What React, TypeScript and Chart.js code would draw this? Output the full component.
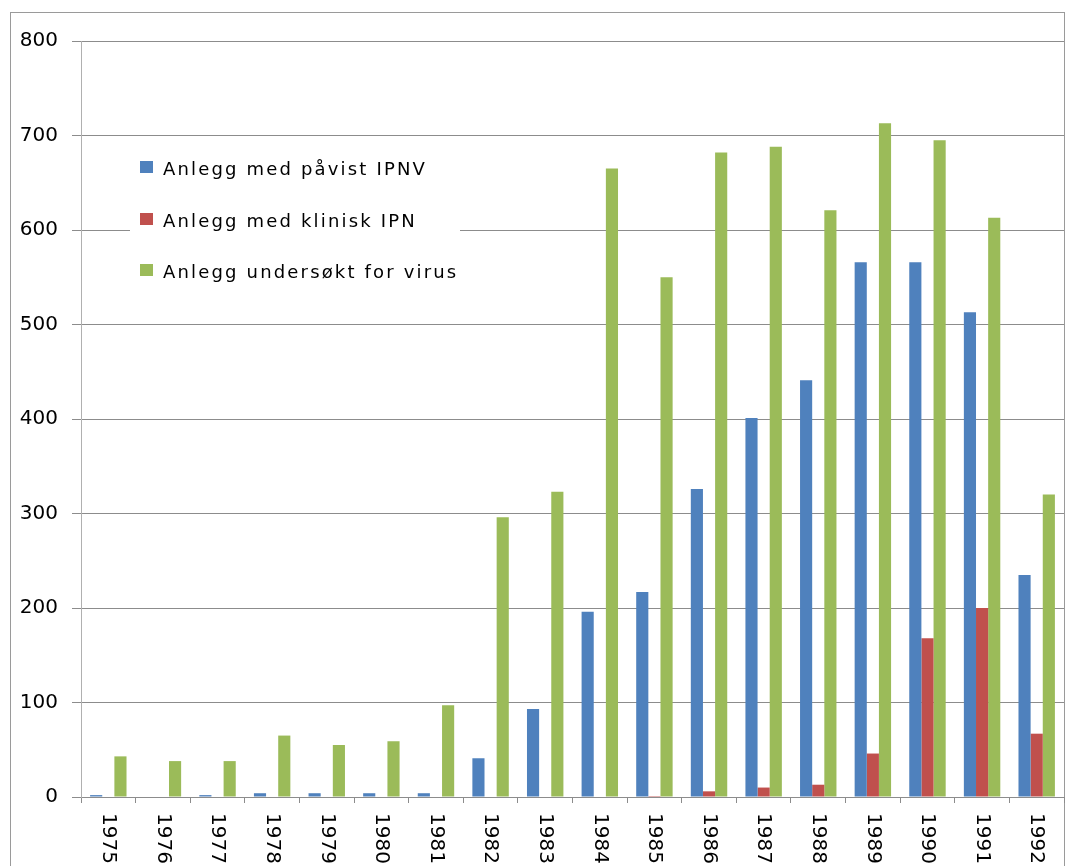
import React, { useEffect, useRef } from "react";
import { Chart, registerables } from "chart.js";

Chart.register(...registerables);

const years = ["1975","1976","1977","1978","1979","1980","1981","1982","1983","1984","1985","1986","1987","1988","1989","1990","1991","1992"];
const pavistIPNV = [2, 0, 2, 4, 4, 4, 4, 41, 93, 196, 217, 326, 401, 441, 566, 566, 513, 235];
const kliniskIPN = [0, 0, 0, 0, 0, 0, 0, 0, 0, 0, 1, 6, 10, 13, 46, 168, 200, 67];
const undersoktVirus = [43, 38, 38, 65, 55, 59, 97, 296, 323, 665, 550, 682, 688, 621, 713, 695, 613, 320];
const seriesNames = ["Anlegg med påvist IPNV", "Anlegg med klinisk IPN", "Anlegg undersøkt for virus"];
const yTicks = [0, 100, 200, 300, 400, 500, 600, 700, 800];

const FONT = '"DejaVu Sans", Verdana, sans-serif';
const GRID = "#8c8c8c";

const framePlugin = {
  id: "frame",
  beforeDraw(chart: any) {
    const ctx = chart.ctx;
    ctx.save();
    ctx.fillStyle = "#ffffff";
    ctx.fillRect(0, 0, chart.width, chart.height);
    ctx.strokeStyle = "#9a9a9a";
    ctx.lineWidth = 1;
    ctx.strokeRect(10.5, 12.5, 1054, 900);
    ctx.restore();
  },
};

const xLabelPlugin = {
  id: "xlabels",
  afterDraw(chart: any) {
    const ctx = chart.ctx;
    const xs = chart.scales.x;
    const top = chart.chartArea.bottom + 16;
    ctx.save();
    ctx.font = `20px ${FONT}`;
    ctx.fillStyle = "#000000";
    ctx.textAlign = "left";
    ctx.textBaseline = "middle";
    (chart.data.labels as string[]).forEach((lab, i) => {
      const x = xs.getPixelForValue(i);
      ctx.save();
      ctx.translate(x, top);
      ctx.rotate(Math.PI / 2);
      ctx.fillText(lab, 0, 0);
      ctx.restore();
    });
    ctx.restore();
  },
};

const legendPlugin = {
  id: "insideLegend",
  afterDraw(chart: any) {
    const ctx = chart.ctx;
    ctx.save();
    ctx.fillStyle = "#ffffff";
    ctx.fillRect(130, 142, 330, 156);
    ctx.font = `18px ${FONT}`;
    const refW = ctx.measureText(chart.data.datasets[0].label).width;
    const n = chart.data.datasets[0].label.length;
    const sp = Math.max(0, (264 - refW) / n);
    (ctx as any).letterSpacing = `${sp.toFixed(2)}px`;
    const rows = [167, 219, 270];
    chart.data.datasets.forEach((ds: any, i: number) => {
      const cy = rows[i];
      ctx.fillStyle = ds.backgroundColor;
      ctx.fillRect(140, cy - 6, 13, 12);
      ctx.fillStyle = "#000000";
      ctx.textAlign = "left";
      ctx.textBaseline = "alphabetic";
      ctx.fillText(ds.label, 163, cy + 8);
    });
    ctx.restore();
  },
};

export default function App() {
  const ref = useRef<HTMLCanvasElement | null>(null);
  useEffect(() => {
    if (!ref.current) return;
    const chart = new Chart(ref.current, {
      type: "bar",
      data: {
        labels: years,
        datasets: [
          { label: seriesNames[0], data: pavistIPNV, backgroundColor: "#4F81BD" },
          { label: seriesNames[1], data: kliniskIPN, backgroundColor: "#C0504D" },
          { label: seriesNames[2], data: undersoktVirus, backgroundColor: "#9BBB59" },
        ],
      },
      options: {
        responsive: false,
        animation: false,
        layout: { padding: { top: 41, right: 2, left: 0, bottom: 0 } },
        datasets: { bar: { categoryPercentage: 0.667, barPercentage: 1.0, borderWidth: 0, inflateAmount: 0 } },
        plugins: { legend: { display: false }, tooltip: { enabled: false } },
        scales: {
          x: {
            afterFit: (s: any) => { s.height = 69; },
            grid: { drawOnChartArea: false, drawTicks: true, tickLength: 6, color: GRID, offset: true },
            border: { color: GRID },
            ticks: { display: false },
          },
          y: {
            min: 0,
            max: 800,
            afterFit: (s: any) => { s.width = 81; },
            afterBuildTicks: (s: any) => { s.ticks = yTicks.map((v) => ({ value: v })); },
            grid: { color: GRID, tickLength: 9 },
            border: { color: "#b0b0b0" },
            ticks: { stepSize: 100, padding: 14, color: "#000000", font: { family: FONT, size: 20 } },
          },
        },
      },
      plugins: [framePlugin, xLabelPlugin, legendPlugin],
    });
    return () => chart.destroy();
  }, []);
  return (
    <div style={{ position: "absolute", left: 0, top: 0, width: 1066, height: 866, background: "#fff" }}>
      <canvas ref={ref} width={1066} height={866} style={{ display: "block" }} />
    </div>
  );
}
